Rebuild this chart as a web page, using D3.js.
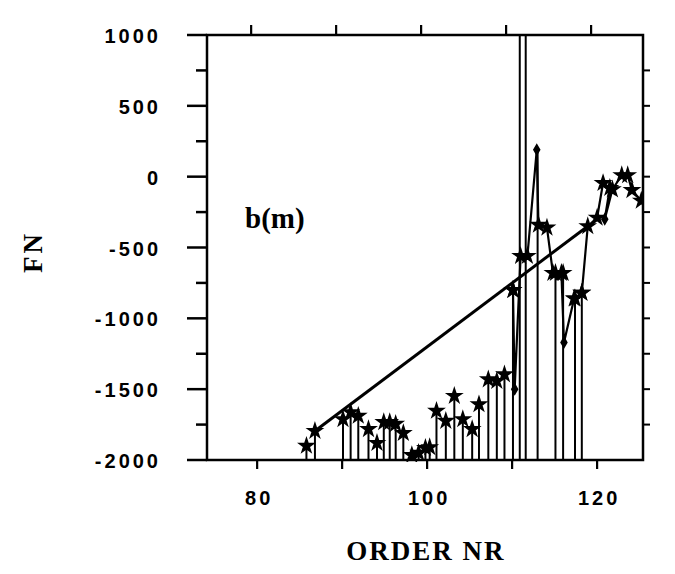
<!DOCTYPE html>
<html>
<head>
<meta charset="utf-8">
<script src="https://cdn.jsdelivr.net/npm/d3@7"></script>
<style>
  body { margin: 0; background: #fff; }
  svg { display: block; }
</style>
</head>
<body>
<div id="chart"></div>
<script>
// stems (order nr, FN)
const stemOrder = [85.8, 86.8, 90.1, 91.0, 91.9, 93.1, 94.1, 94.9, 95.6, 96.3, 97.2,
  98.2, 99.0, 99.8, 100.3, 101.1, 102.2, 103.2, 104.2, 105.3, 106.1, 107.2, 108.2,
  109.1, 110.1, 110.9, 111.6, 113.0, 115.1, 116.0, 117.4, 118.2];
const stemFN = [-1900, -1795, -1712, -1663, -1688, -1782, -1880, -1733, -1733, -1745, -1810,
  -1965, -1950, -1915, -1910, -1653, -1724, -1548, -1712, -1782, -1607, -1431, -1442,
  -1396, -800, 1000, 1000, 190, -680, -680, -860, -820];
const stemHead = [1, 1, 1, 1, 1, 1, 1, 1, 1, 1, 1, 1, 1, 1, 1, 1, 1, 1, 1, 1, 1, 1, 1,
  1, 1, 0, 0, 0, 1, 1, 1, 1];

// connected series
const lineOrder = [110.1, 110.3, 111.0, 111.8, 112.9, 113.1, 114.1, 114.8, 115.8, 116.1,
  117.3, 118.2, 118.9, 120.0, 120.7, 121.5, 120.9, 121.8, 122.9, 123.6, 124.1, 125.2];
const lineFN = [-800, -1500, -560, -560, 190, -340, -360, -680, -680, -1170,
  -860, -820, -350, -290, -45, -80, -300, -90, 10, 10, -95, -170];
const lineMark = ["star", "diamond", "star", "star", "diamond", "star", "star", "star", "star", "diamond",
  "star", "star", "star", "star", "star", "star", "diamond", "star", "star", "star", "star", "star"];

// straight fit line
const fitOrder = [86.8, 118.9];
const fitFN = [-1795, -350];

const xTickVals = [80, 90, 100, 110, 120];
const xLabelVals = [80, 100, 120];
const yMajor = [-2000, -1500, -1000, -500, 0, 500, 1000];
const yMinor = [-1750, -1250, -750, -250, 250, 750];
const yRight = [-1750, -1500, -1250, -1000, -750, -500, -250, 0, 250, 500, 750];

const W = 675, H = 574;
const svg = d3.select("#chart").append("svg").attr("width", W).attr("height", H);

const x = d3.scaleLinear().domain([74.1, 125.4]).range([207, 643]);
const y = d3.scaleLinear().domain([-2000, 1000]).range([460, 35]);

const L = 207, R = 643, T = 35, B = 460;

svg.append("clipPath").attr("id", "clip")
  .append("rect").attr("x", L).attr("y", T - 2).attr("width", R - L).attr("height", B - T + 4);

const plot = svg.append("g").attr("clip-path", "url(#clip)");

// stems
plot.selectAll(".stem")
  .data(stemOrder)
  .enter().append("line")
  .attr("x1", d => x(d)).attr("x2", d => x(d))
  .attr("y1", y(-2000))
  .attr("y2", (d, i) => y(stemFN[i]))
  .attr("stroke", "#000").attr("stroke-width", 2);

const star = d3.symbol().type(d3.symbolStar).size(50);
const diamond = d3.symbol().type(d3.symbolDiamond).size(24);

plot.selectAll(".shead")
  .data(stemOrder.filter((d, i) => stemHead[i]))
  .enter().append("path")
  .attr("d", star)
  .attr("transform", d => `translate(${x(d)},${y(stemFN[stemOrder.indexOf(d)])})`)
  .attr("fill", "#000").attr("stroke", "#000").attr("stroke-width", 2);

// fit line
plot.append("line")
  .attr("x1", x(fitOrder[0])).attr("y1", y(fitFN[0]))
  .attr("x2", x(fitOrder[1])).attr("y2", y(fitFN[1]))
  .attr("stroke", "#000").attr("stroke-width", 3);

// connected series
const pts = lineOrder.map((d, i) => [d, lineFN[i], lineMark[i]]);
plot.append("path")
  .datum(pts)
  .attr("d", d3.line().x(d => x(d[0])).y(d => y(d[1])))
  .attr("fill", "none").attr("stroke", "#000").attr("stroke-width", 2.2);

plot.selectAll(".lmark")
  .data(pts)
  .enter().append("path")
  .attr("d", d => d[2] === "star" ? star() : diamond())
  .attr("transform", d => `translate(${x(d[0])},${y(d[1])})`)
  .attr("fill", "#000").attr("stroke", "#000").attr("stroke-width", 2);

// frame
svg.append("rect")
  .attr("x", L).attr("y", T).attr("width", R - L).attr("height", B - T)
  .attr("fill", "none").attr("stroke", "#000").attr("stroke-width", 2.5);

// left ticks
svg.append("g").selectAll("line").data(yMajor).enter().append("line")
  .attr("x1", L - 20).attr("x2", L).attr("y1", d => y(d)).attr("y2", d => y(d))
  .attr("stroke", "#000").attr("stroke-width", 2.5);
svg.append("g").selectAll("line").data(yMinor).enter().append("line")
  .attr("x1", L - 11).attr("x2", L).attr("y1", d => y(d)).attr("y2", d => y(d))
  .attr("stroke", "#000").attr("stroke-width", 2.5);
// right ticks
svg.append("g").selectAll("line").data(yRight).enter().append("line")
  .attr("x1", R).attr("x2", R + 7).attr("y1", d => y(d)).attr("y2", d => y(d))
  .attr("stroke", "#000").attr("stroke-width", 2);
// top / bottom ticks
svg.append("g").selectAll("line").data(xTickVals).enter().append("line")
  .attr("x1", d => x(d) - 6).attr("x2", d => x(d) - 6).attr("y1", T).attr("y2", T - 10)
  .attr("stroke", "#000").attr("stroke-width", 2.2);
svg.append("g").selectAll("line").data(xTickVals).enter().append("line")
  .attr("x1", d => x(d)).attr("x2", d => x(d)).attr("y1", B).attr("y2", B + 9)
  .attr("stroke", "#000").attr("stroke-width", 2.2);

// tick labels
svg.append("g").selectAll("text").data(yMajor).enter().append("text")
  .attr("x", 161).attr("y", d => y(d) + 8)
  .attr("text-anchor", "end")
  .style("font-family", "'Liberation Sans', Arial, sans-serif")
  .style("font-size", "20px").style("font-weight", "bold")
  .style("letter-spacing", "3px")
  .text(d => d);

svg.append("g").selectAll("text").data(xLabelVals).enter().append("text")
  .attr("x", d => x(d) + 2).attr("y", 505)
  .attr("text-anchor", "middle")
  .style("font-family", "'Liberation Sans', Arial, sans-serif")
  .style("font-size", "20px").style("font-weight", "bold")
  .style("letter-spacing", "3px")
  .text(d => d);

// axis titles
svg.append("text")
  .attr("transform", "translate(42,252) rotate(-90)")
  .attr("text-anchor", "middle")
  .style("font-family", "'Liberation Serif', 'Times New Roman', serif")
  .style("font-size", "27px").style("font-weight", "bold")
  .style("letter-spacing", "3px")
  .text("FN");

svg.append("text")
  .attr("x", 426).attr("y", 560)
  .attr("text-anchor", "middle")
  .style("font-family", "'Liberation Serif', 'Times New Roman', serif")
  .style("font-size", "27px").style("font-weight", "bold")
  .style("letter-spacing", "2px")
  .text("ORDER NR");

svg.append("text")
  .attr("x", 245).attr("y", 228)
  .style("font-family", "'Liberation Serif', 'Times New Roman', serif")
  .style("font-size", "29px").style("font-weight", "bold")
  .text("b(m)");
</script>
</body>
</html>
